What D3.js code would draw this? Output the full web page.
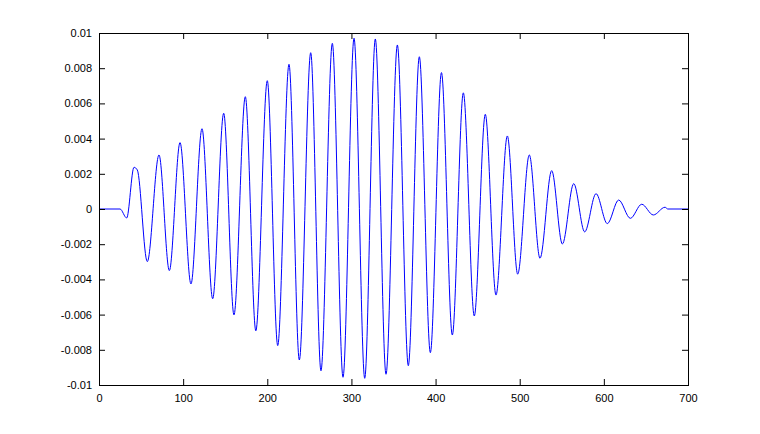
<!DOCTYPE html>
<html>
<head>
<meta charset="utf-8">
<script src="https://cdn.jsdelivr.net/npm/d3@7"></script>
<style>
    body { margin: 0; background: #fff; }
    .axis text { font-family: "Liberation Sans", Arial, sans-serif; font-size: 11px; fill: #000; }
    .axis path, .axis line { stroke: #000; }
</style>
</head>
<body>
<div id="chart"></div>
<script>
// Waveform: sample positions and the peaks / troughs between them
const waveX = [0, 25, 32.9, 41.6, 45.5, 57.4, 71.3, 83.6, 96.3, 109.3, 122.4, 135.1, 148.2, 160.4,
    173.9, 186.4, 200.0, 212.4, 225.8, 238.1, 251.6, 263.8, 277.3, 290.0, 303.1, 315.8, 328.4,
    341.1, 354.6, 367.6, 380.7, 393.8, 407.0, 419.9, 433.0, 446.0, 459.1, 471.8, 485.3, 497.6,
    511.4, 524.1, 538.0, 550.7, 564.2, 577.2, 590.7, 604.1, 617.6, 631.5, 645.0, 658.8, 672.7,
    676, 700];
const waveY = [0, 0, -0.00051, 0.00237, 0.00222, -0.00299, 0.00307, -0.00350, 0.00377, -0.00426,
    0.00456, -0.00510, 0.00544, -0.00602, 0.00638, -0.00692, 0.00729, -0.00776, 0.00822, -0.00858,
    0.00888, -0.00919, 0.00941, -0.00956, 0.00970, -0.00962, 0.00966, -0.00939, 0.00932, -0.00890,
    0.00865, -0.00816, 0.00775, -0.00716, 0.00660, -0.00608, 0.00538, -0.00489, 0.00415, -0.00370,
    0.00307, -0.00280, 0.00218, -0.00199, 0.00144, -0.00130, 0.00087, -0.00083, 0.00051, -0.00053,
    0.00027, -0.00034, 0.00010, 0, 0];

const xTicks = [0, 100, 200, 300, 400, 500, 600, 700];
const yTicks = [-0.01, -0.008, -0.006, -0.004, -0.002, 0, 0.002, 0.004, 0.006, 0.008, 0.01];
const yTickLabels = ["-0.01", "-0.008", "-0.006", "-0.004", "-0.002", "0", "0.002", "0.004", "0.006", "0.008", "0.01"];

const W = 760, H = 434;
const margin = { top: 33, right: 72, bottom: 49, left: 99 };
const width = W - margin.left - margin.right;
const height = H - margin.top - margin.bottom;

const svg = d3.select("#chart")
    .append("svg")
    .attr("width", W)
    .attr("height", H)
    .append("g")
    .attr("transform", `translate(${margin.left},${margin.top})`);

const x = d3.scaleLinear().domain([0, 700]).range([0, width]);
const y = d3.scaleLinear().domain([-0.01, 0.01]).range([height, 0]);

// the signal
const line = d3.line()
    .x(i => x(waveX[i]))
    .y(i => y(waveY[i]))
    .curve(d3.curveMonotoneX);

svg.append("path")
    .datum(d3.range(waveX.length))
    .attr("fill", "none")
    .attr("stroke", "#0000ff")
    .attr("stroke-width", 1)
    .attr("d", line);

// MATLAB style box: ticks pointing inwards on all four sides
svg.append("g")
    .attr("class", "axis")
    .attr("transform", `translate(0,${height})`)
    .call(d3.axisBottom(x).tickValues(xTicks).tickSizeInner(-6).tickSizeOuter(0).tickPadding(9));

svg.append("g")
    .attr("class", "axis")
    .call(d3.axisTop(x).tickValues(xTicks).tickSizeInner(-6).tickSizeOuter(0).tickFormat(""));

svg.append("g")
    .attr("class", "axis")
    .call(d3.axisLeft(y).tickValues(yTicks).tickSizeInner(-6).tickSizeOuter(0).tickPadding(7)
        .tickFormat((d, i) => yTickLabels[i]));

svg.append("g")
    .attr("class", "axis")
    .attr("transform", `translate(${width},0)`)
    .call(d3.axisRight(y).tickValues(yTicks).tickSizeInner(-6).tickSizeOuter(0).tickFormat(""));

svg.selectAll(".domain").attr("shape-rendering", "crispEdges");
</script>
</body>
</html>
